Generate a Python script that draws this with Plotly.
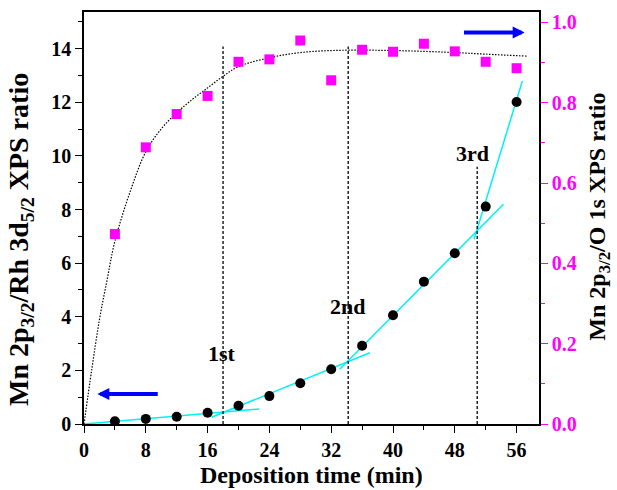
import plotly.graph_objects as go

# ---------------- data ----------------
time_min = [4, 8, 12, 16, 20, 24, 28, 32, 36, 40, 44, 48, 52, 56]
mn_rh_ratio = [0.10, 0.19, 0.27, 0.42, 0.68, 1.04, 1.52, 2.04, 2.92, 4.06, 5.31, 6.37, 8.11, 12.01]
mn_o_ratio = [0.473, 0.689, 0.772, 0.817, 0.902, 0.908, 0.955, 0.856, 0.932, 0.927, 0.947, 0.928, 0.902, 0.886]

fit_x = [0, 1, 2, 3, 4, 6, 8, 10, 12, 14, 16, 18, 20, 24, 28, 32, 36, 40, 44, 48, 52, 57.5]
fit_y = [0, 0.135, 0.26, 0.36, 0.455, 0.58, 0.678, 0.735, 0.775, 0.808, 0.837, 0.866, 0.89, 0.912, 0.925, 0.93, 0.931, 0.93, 0.928, 0.925, 0.921, 0.916]

seg_x = [[0, 22.7], [16.5, 37.0], [33.1, 54.3], [50.5, 56.75]]
seg_y = [[0, 0.56], [0.25, 2.66], [2.04, 8.2], [6.89, 12.8]]

stage_x = [18, 34.2, 50.9]
stage_top = [14.08, 14.08, 9.6]
stage_labels = ["1st", "2nd", "3rd"]
stage_label_x = [17.8, 34.1, 50.3]
stage_label_y = [2.64, 4.40, 10.1]

x_ticks = [0, 8, 16, 24, 32, 40, 48, 56]
y_ticks = [0, 2, 4, 6, 8, 10, 12, 14]
y2_ticks = [0.0, 0.2, 0.4, 0.6, 0.8, 1.0]

FONT = "Liberation Serif, Times New Roman, Times, serif"
MAGENTA = "#FF00FF"
CYAN = "#00F0F8"
BLUE = "#0000FF"

fig = go.Figure()

# tangent (cyan) lines
for sx, sy in zip(seg_x, seg_y):
    fig.add_trace(go.Scatter(x=sx, y=sy, mode="lines", yaxis="y",
                             line=dict(color=CYAN, width=1.5), showlegend=False, hoverinfo="skip"))

# vertical dashed stage lines
for vx, vt in zip(stage_x, stage_top):
    fig.add_trace(go.Scatter(x=[vx, vx], y=[0, vt], mode="lines", yaxis="y",
                             line=dict(color="black", width=1.3, dash="3px,2px"),
                             showlegend=False, hoverinfo="skip"))

# fit curve (right axis)
fig.add_trace(go.Scatter(x=fit_x, y=fit_y, mode="lines", yaxis="y2",
                         line=dict(color="black", width=1.2, dash="1.5px,1.5px", shape="spline"),
                         showlegend=False, hoverinfo="skip"))

# squares (right axis)
fig.add_trace(go.Scatter(x=time_min, y=mn_o_ratio, mode="markers", yaxis="y2",
                         marker=dict(symbol="square", color=MAGENTA, size=10), showlegend=False))

# circles (left axis)
fig.add_trace(go.Scatter(x=time_min, y=mn_rh_ratio, mode="markers", yaxis="y",
                         marker=dict(symbol="circle", color="black", size=10), showlegend=False))

annotations = []
for lx, ly, lt in zip(stage_label_x, stage_label_y, stage_labels):
    annotations.append(dict(x=lx, y=ly, xref="x", yref="y", text="<b>%s</b>" % lt,
                            showarrow=False, font=dict(family=FONT, size=22, color="black")))

# blue arrows
annotations.append(dict(x=1.72, y=1.12, xref="x", yref="y", ax=9.74, ay=1.12, axref="x", ayref="y",
                        text="", showarrow=True, arrowhead=2, arrowsize=0.6, arrowwidth=4, arrowcolor=BLUE))
annotations.append(dict(x=57.05, y=0.975, xref="x", yref="y2", ax=49.0, ay=0.975, axref="x", ayref="y2",
                        text="", showarrow=True, arrowhead=2, arrowsize=0.6, arrowwidth=4, arrowcolor=BLUE))

# axis titles
annotations.append(dict(x=0.5, y=-0.124, xref="paper", yref="paper", text="<b>Deposition time (min)</b>",
                        showarrow=False, xanchor="center", yanchor="middle",
                        font=dict(family=FONT, size=24, color="black")))
annotations.append(dict(x=-0.138, y=0.447, xref="paper", yref="paper",
                        text="<b>Mn 2p<sub>3/2</sub>/Rh 3d<sub>5/2</sub> XPS ratio</b>",
                        showarrow=False, textangle=-90, xanchor="center", yanchor="middle",
                        font=dict(family=FONT, size=28, color="black")))
annotations.append(dict(x=1.133, y=0.502, xref="paper", yref="paper",
                        text="<b>Mn 2p<sub>3/2</sub>/O 1s XPS ratio</b>",
                        showarrow=False, textangle=-90, xanchor="center", yanchor="middle",
                        font=dict(family=FONT, size=24, color="black")))

tickfont = dict(family=FONT, size=20, color="black")

fig.update_layout(
    width=617, height=490,
    margin=dict(l=84, r=78, t=12, b=66, autoexpand=False),
    paper_bgcolor="white", plot_bgcolor="white",
    showlegend=False,
    annotations=annotations,
    xaxis=dict(range=[0, 58.9], tickvals=x_ticks, ticktext=["<b>%d</b>" % v for v in x_ticks],
               ticks="outside", ticklen=7, tickwidth=1.3, tickcolor="black",
               minor=dict(dtick=4, tick0=0, ticks="outside", ticklen=4, tickwidth=1.3, tickcolor="black"),
               showline=True, linecolor="black", linewidth=1.5, mirror=True,
               showgrid=False, zeroline=False, tickfont=tickfont, automargin=False),
    yaxis=dict(range=[0, 15.37], tickvals=y_ticks, ticktext=["<b>%d</b>" % v for v in y_ticks],
               ticks="outside", ticklen=7, tickwidth=1.3, tickcolor="black",
               minor=dict(dtick=1, tick0=0, ticks="outside", ticklen=4, tickwidth=1.3, tickcolor="black"),
               showline=True, linecolor="black", linewidth=1.5,
               showgrid=False, zeroline=False, tickfont=tickfont, automargin=False),
    yaxis2=dict(range=[0, 1.026], overlaying="y", side="right", anchor="x",
                tickvals=y2_ticks, ticktext=["<b>%.1f</b>" % v for v in y2_ticks],
                ticks="outside", ticklen=7, tickwidth=1.3, tickcolor=MAGENTA,
                minor=dict(dtick=0.1, tick0=0, ticks="outside", ticklen=4, tickwidth=1.3, tickcolor=MAGENTA),
                showline=True, linecolor="black", linewidth=1.5,
                showgrid=False, zeroline=False, automargin=False,
                tickfont=dict(family=FONT, size=20, color=MAGENTA)),
)

fig.write_html("out.html", config={"displayModeBar": False},
               post_script="document.body.style.margin='0px';document.body.style.padding='0px';")
